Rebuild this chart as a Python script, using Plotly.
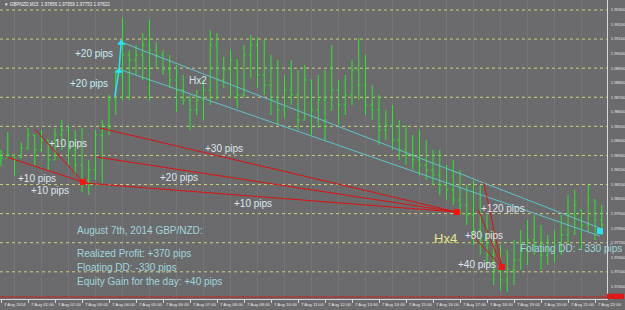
import plotly.graph_objects as go
from datetime import datetime, timedelta

# ---------------- data ----------------
symbol = "GBPNZD,M15"
start = datetime(2014, 8, 7, 0, 0)
bar_times = [start + timedelta(minutes=15 * i) for i in range(90)]

bar_open = [1.98269, 1.98283, 1.98303, 1.98283, 1.98351, 1.98441, 1.98338, 1.98406, 1.98269, 1.98441,
            1.98475, 1.98338, 1.98234, 1.98131, 1.98200, 1.98441, 1.98509, 1.98681, 1.98853, 1.98991,
            1.98956, 1.98991, 1.99059, 1.99025, 1.98991, 1.98888, 1.98819, 1.98750, 1.98681, 1.98613,
            1.98681, 1.98750, 1.99059, 1.98819, 1.98888, 1.98956, 1.98716, 1.98991, 1.99059, 1.98853,
            1.98784, 1.98681, 1.98613, 1.98750, 1.98716, 1.98544, 1.98819, 1.98613, 1.98681, 1.98613,
            1.98750, 1.98647, 1.98716, 1.98888, 1.98784, 1.98647, 1.98613, 1.98475, 1.98509, 1.98406,
            1.98338, 1.98303, 1.98269, 1.98234, 1.98200, 1.98166, 1.98097, 1.98063, 1.97994, 1.97959,
            1.97891, 1.97788, 1.97719, 1.97616, 1.97513, 1.97444, 1.97513, 1.97581, 1.97650, 1.97719,
            1.97684, 1.97616, 1.97650, 1.97684, 1.97753, 1.97891, 1.97925, 1.97822, 1.97994, 1.97856]
bar_high = [1.98338, 1.98461, 1.98303, 1.98393, 1.98489, 1.98441, 1.98475, 1.98406, 1.98489, 1.98544,
            1.98509, 1.98475, 1.98489, 1.98269, 1.98475, 1.98544, 1.98716, 1.98888, 1.99245, 1.99025,
            1.99059, 1.99142, 1.99231, 1.99080, 1.99025, 1.98991, 1.98922, 1.98853, 1.98716, 1.98750,
            1.98819, 1.99163, 1.99142, 1.98977, 1.99025, 1.98956, 1.99059, 1.99128, 1.99114, 1.99094,
            1.98991, 1.98956, 1.98853, 1.98956, 1.98888, 1.98922, 1.98819, 1.98853, 1.98888, 1.99059,
            1.98819, 1.98853, 1.98956, 1.99108, 1.98991, 1.98784, 1.98716, 1.98613, 1.98647, 1.98544,
            1.98509, 1.98441, 1.98475, 1.98406, 1.98338, 1.98338, 1.98234, 1.98269, 1.98200, 1.98097,
            1.98131, 1.98097, 1.97891, 1.97788, 1.97684, 1.97650, 1.97719, 1.97788, 1.97856, 1.97891,
            1.97822, 1.97753, 1.97788, 1.97891, 1.98028, 1.98063, 1.97925, 1.98097, 1.97994, 1.97959]
bar_low = [1.98228, 1.98283, 1.98159, 1.98283, 1.98338, 1.98234, 1.98324, 1.98200, 1.98269, 1.98338,
           1.98234, 1.98166, 1.98049, 1.98028, 1.98131, 1.98111, 1.98441, 1.98578, 1.98681, 1.98681,
           1.98853, 1.98819, 1.98681, 1.98901, 1.98853, 1.98764, 1.98599, 1.98647, 1.98475, 1.98578,
           1.98544, 1.98647, 1.98681, 1.98764, 1.98695, 1.98626, 1.98695, 1.98833, 1.98764, 1.98716,
           1.98578, 1.98509, 1.98558, 1.98647, 1.98475, 1.98544, 1.98441, 1.98489, 1.98406, 1.98613,
           1.98509, 1.98578, 1.98647, 1.98681, 1.98578, 1.98544, 1.98372, 1.98406, 1.98338, 1.98269,
           1.98234, 1.98200, 1.98166, 1.98131, 1.98097, 1.98028, 1.97994, 1.97959, 1.97891, 1.97822,
           1.97684, 1.97616, 1.97547, 1.97409, 1.97375, 1.97361, 1.97409, 1.97513, 1.97547, 1.97616,
           1.97513, 1.97547, 1.97568, 1.97616, 1.97684, 1.97753, 1.97650, 1.97774, 1.97719, 1.97753]
bar_close = [1.98283, 1.98303, 1.98269, 1.98351, 1.98441, 1.98338, 1.98406, 1.98269, 1.98441, 1.98475,
             1.98338, 1.98234, 1.98131, 1.98200, 1.98441, 1.98509, 1.98681, 1.98853, 1.98991, 1.98956,
             1.98991, 1.99059, 1.99025, 1.98991, 1.98888, 1.98819, 1.98750, 1.98681, 1.98613, 1.98681,
             1.98750, 1.99059, 1.98819, 1.98888, 1.98956, 1.98716, 1.98991, 1.99059, 1.98853, 1.98784,
             1.98681, 1.98613, 1.98750, 1.98716, 1.98544, 1.98819, 1.98613, 1.98681, 1.98544, 1.98750,
             1.98647, 1.98716, 1.98888, 1.98784, 1.98647, 1.98613, 1.98475, 1.98509, 1.98406, 1.98338,
             1.98303, 1.98269, 1.98234, 1.98200, 1.98166, 1.98097, 1.98063, 1.97994, 1.97959, 1.97891,
             1.97788, 1.97719, 1.97616, 1.97513, 1.97444, 1.97513, 1.97581, 1.97650, 1.97719, 1.97684,
             1.97616, 1.97650, 1.97684, 1.97753, 1.97891, 1.97959, 1.97822, 1.97994, 1.97856, 1.97822]

time_labels = ["7 Aug 2014", "7 Aug 01:00", "7 Aug 02:00", "7 Aug 03:00", "7 Aug 04:00", "7 Aug 05:00",
               "7 Aug 06:00", "7 Aug 07:00", "7 Aug 08:00", "7 Aug 09:00", "7 Aug 10:00", "7 Aug 11:00",
               "7 Aug 12:00", "7 Aug 13:00", "7 Aug 14:00", "7 Aug 15:00", "7 Aug 16:00", "7 Aug 17:00",
               "7 Aug 18:00", "7 Aug 19:00", "7 Aug 20:00", "7 Aug 21:00", "7 Aug 22:00"]
price_ticks = [1.974, 1.975, 1.976, 1.977, 1.978, 1.979, 1.980, 1.981, 1.982, 1.983,
               1.984, 1.985, 1.986, 1.987, 1.988, 1.989, 1.990, 1.991, 1.992, 1.993]
grid_levels = [1.993, 1.991, 1.989, 1.987, 1.985, 1.983, 1.981, 1.979, 1.977, 1.975]
order_line = 1.97327

# drawn objects (time, price) pairs
red_lines = [
    ("2014-08-07 01:15", 1.98482, "2014-08-07 03:02", 1.98118),
    ("2014-08-07 00:13", 1.98289, "2014-08-07 03:02", 1.98118),
    ("2014-08-07 03:02", 1.98111, "2014-08-07 16:53", 1.97911),
    ("2014-08-07 03:40", 1.98489, "2014-08-07 16:53", 1.97911),
    ("2014-08-07 03:33", 1.98289, "2014-08-07 16:53", 1.97911),
    ("2014-08-07 17:53", 1.98111, "2014-08-07 18:33", 1.97533),
    ("2014-08-07 17:40", 1.97932, "2014-08-07 18:33", 1.97533),
    ("2014-08-07 17:29", 1.97746, "2014-08-07 18:33", 1.97533),
]
red_marks_t = ["2014-08-07 03:02", "2014-08-07 16:53", "2014-08-07 18:33"]
red_marks_p = [1.98118, 1.97911, 1.97533]

cyan_channel = [
    ("2014-08-07 04:27", 1.99080, "2014-08-07 22:11", 1.97801),
    ("2014-08-07 04:27", 1.98888, "2014-08-07 22:11", 1.97746),
]
cyan_arrow_t = ["2014-08-07 04:13", "2014-08-07 04:22", "2014-08-07 04:27"]
cyan_arrow_p = [1.98702, 1.98881, 1.99073]
cyan_end_t = ["2014-08-07 22:11"]
cyan_end_p = [1.97780]

# texts: (label, x_px, y_px, colour, size)
notes = [
    ("August 7th, 2014 GBP/NZD:", 75, 230, "#9fd6dc", 10),
    ("Realized Profit: +370 pips", 75, 253, "#9fd6dc", 10),
    ("Floating DD: -330 pips", 75, 267, "#9fd6dc", 10),
    ("Equity Gain for the day: +40 pips", 75, 281, "#9fd6dc", 10),
    ("+20 pips", 73, 53, "#c8eef4", 10),
    ("+20 pips", 68, 83, "#c8eef4", 10),
    ("Hx2", 187, 80, "#d0e4ea", 10),
    ("+10 pips", 47, 143, "#dfe6ee", 10),
    ("+10 pips", 16, 178, "#dfe6ee", 10),
    ("+10 pips", 29, 190, "#dfe6ee", 10),
    ("+30 pips", 203, 148, "#dfe6ee", 10),
    ("+20 pips", 158, 177, "#dfe6ee", 10),
    ("+10 pips", 232, 203, "#dfe6ee", 10),
    ("+120 pips", 479, 208, "#dfe6ee", 10),
    ("+80 pips", 463, 235, "#dfe6ee", 10),
    ("+40 pips", 456, 264, "#dfe6ee", 10),
    ("Hx4", 432, 238, "#e6e68a", 13),
    ("Folating DD: - 330 pips", 518, 248, "#9fd6dc", 10),
]

# ---------------- figure ----------------
W, H = 625, 310
PW, PH = 607, 299
BG = "#6b6b6d"
FONT = "Liberation Sans, Arial, sans-serif"

x0 = start - timedelta(hours=1 / 27)
x1 = start + timedelta(hours=606 / 27)
y_top = 1.993 + 10 * 0.00006875
y_bot = 1.993 - 289 * 0.00006875

fig = go.Figure()

def seg_xy(segs):
    xs, ys = [], []
    for a, pa, b, pb in segs:
        xs += [a, b, None]
        ys += [pa, pb, None]
    return xs, ys

cx, cy = seg_xy(cyan_channel)
fig.add_trace(go.Scatter(x=cx, y=cy, mode="lines", line=dict(color="#5fc3c8", width=1),
                         hoverinfo="skip", showlegend=False))

fig.add_trace(go.Ohlc(x=bar_times, open=bar_open, high=bar_high, low=bar_low, close=bar_close,
                      increasing=dict(line=dict(color="#22ee22", width=1)),
                      decreasing=dict(line=dict(color="#22ee22", width=1)),
                      tickwidth=0.25, showlegend=False))

rx, ry = seg_xy(red_lines)
fig.add_trace(go.Scatter(x=rx, y=ry, mode="lines", line=dict(color="#e01010", width=1),
                         hoverinfo="skip", showlegend=False))
fig.add_trace(go.Scatter(x=red_marks_t, y=red_marks_p, mode="markers",
                         marker=dict(symbol="square", size=6, color="#ff1010"),
                         hoverinfo="skip", showlegend=False))

fig.add_trace(go.Scatter(x=cyan_arrow_t, y=cyan_arrow_p, mode="lines",
                         line=dict(color="#20e8f8", width=1.5), hoverinfo="skip", showlegend=False))
fig.add_trace(go.Scatter(x=cyan_arrow_t[1:], y=cyan_arrow_p[1:], mode="markers",
                         marker=dict(symbol="triangle-up", size=7, color="#20e8f8"),
                         hoverinfo="skip", showlegend=False))
fig.add_trace(go.Scatter(x=cyan_end_t, y=cyan_end_p, mode="markers",
                         marker=dict(symbol="square", size=6, color="#30e0f0"),
                         hoverinfo="skip", showlegend=False))

shapes = []
for g in grid_levels:
    shapes.append(dict(type="line", xref="paper", x0=0, x1=1, yref="y", y0=g, y1=g,
                       line=dict(color="#cfcf7a", width=1, dash="dot"), layer="below"))
for h in range(23):
    t = start + timedelta(minutes=60 * h + 30)
    shapes.append(dict(type="line", xref="x", x0=t, x1=t, yref="paper", y0=0, y1=1,
                       line=dict(color="rgba(255,255,255,0.07)", width=1), layer="below"))
shapes.append(dict(type="line", xref="paper", x0=0, x1=1, yref="y", y0=order_line, y1=order_line,
                   line=dict(color="#c82020", width=1)))
shapes.append(dict(type="rect", xref="paper", x0=1.0, x1=(W - 1) / PW, yref="y",
                   y0=order_line - 0.00022, y1=order_line + 0.00022,
                   fillcolor="#e01818", line=dict(width=0)))
fig.update_layout(shapes=shapes)

ann = []
for txt, px, py, col, sz in notes:
    ann.append(dict(text=txt, xref="paper", yref="paper", x=px / PW, y=1 - py / PH,
                    xanchor="left", yanchor="middle", showarrow=False,
                    font=dict(color=col, size=sz, family=FONT)))
for h, lab in enumerate(time_labels):
    ann.append(dict(text=lab, xref="paper", yref="paper", x=(2 + 27 * h) / PW, y=-5.5 / PH,
                    xanchor="left", yanchor="middle", showarrow=False,
                    font=dict(color="#e8e8e8", size=4.3, family=FONT)))
title_txt = "\u25bc %s  %.5f %.5f %.5f %.5f" % (symbol, bar_open[-1], bar_high[-1], bar_low[-1], bar_close[-1])
ann.append(dict(text=title_txt, xref="paper", yref="paper", x=2 / PW, y=1 - 5 / PH,
                xanchor="left", yanchor="middle", showarrow=False,
                font=dict(color="#f0f0f0", size=4.5, family=FONT)))
fig.update_layout(annotations=ann)

fig.update_layout(
    width=W, height=H,
    margin=dict(l=0, r=W - PW, t=0, b=H - PH, pad=0),
    paper_bgcolor=BG, plot_bgcolor=BG,
    showlegend=False,
    xaxis=dict(type="date", range=[x0, x1], rangeslider=dict(visible=False),
               showgrid=False, zeroline=False, showticklabels=False,
               tickvals=[start + timedelta(hours=h) for h in range(23)],
               ticks="outside", ticklen=3, tickcolor="#d8d8d8",
               showline=True, linecolor="#d8d8d8", linewidth=1, fixedrange=True),
    yaxis=dict(range=[y_bot, y_top], side="right", showgrid=False, zeroline=False,
               tickvals=price_ticks, ticktext=["%.5f" % p for p in price_ticks],
               tickfont=dict(color="#e8e8e8", size=4, family=FONT),
               ticks="", ticklabelstandoff=2,
               showline=True, linecolor="#d8d8d8", linewidth=1, automargin=False, fixedrange=True),
)

fig.write_html("out.html")
